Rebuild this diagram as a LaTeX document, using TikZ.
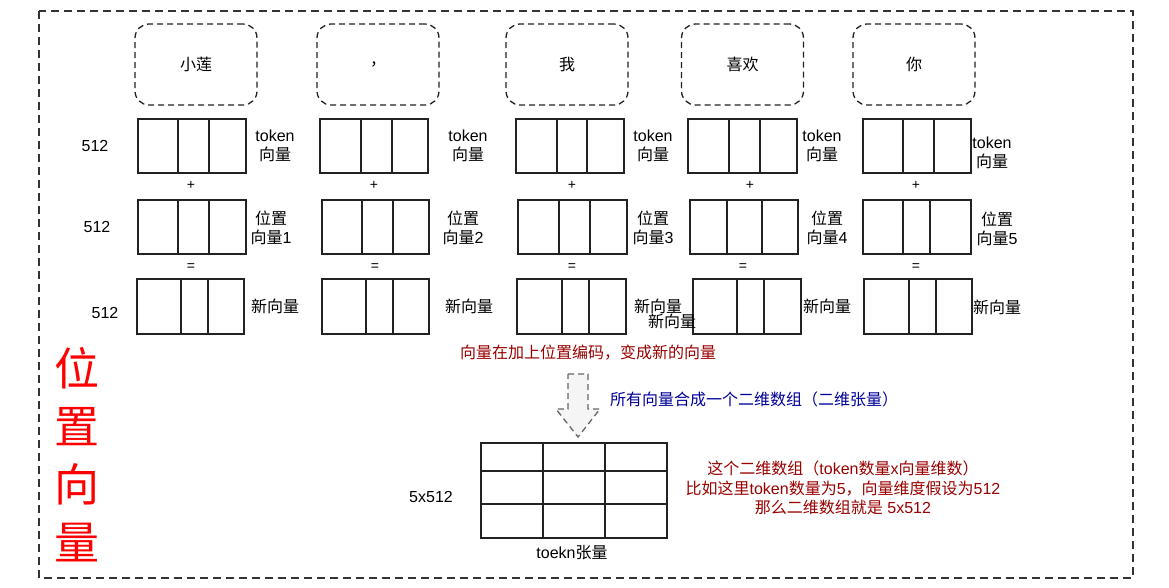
\documentclass[tikz,border=0pt]{standalone}
\usepackage{fontspec}
\setmainfont{Liberation Sans}
\newfontfamily\cjk{Noto Sans CJK SC}
\usetikzlibrary{fit}
\newcommand{\zh}[1]{{\cjk #1}}
\definecolor{darkred}{HTML}{990000}
\definecolor{darkblue}{HTML}{000099}
\definecolor{arrowgray}{HTML}{666666}
\definecolor{arrowfill}{HTML}{F5F5F5}
\definecolor{linegray}{HTML}{222222}
\tikzset{
  lbl/.style={font=\fontsize{16}{19.5}\selectfont, align=center, inner sep=0pt},
  smallsign/.style={font=\fontsize{14}{16}\selectfont, inner sep=0pt},
  tokbox/.style={draw=linegray, dash pattern=on 6pt off 4pt, line width=1.3pt,
    rounded corners=14pt, minimum width=122pt, minimum height=81pt,
    font=\fontsize{16}{19}\selectfont, inner sep=0pt},
  cellbox/.style={draw=linegray, line width=1.3pt, inner sep=0pt},
  cellline/.style={draw=linegray, line width=1.3pt},
  outerframe/.style={draw=black!80, line width=1.3pt, dash pattern=on 8pt off 5pt},
  blockarrow/.style={draw=arrowgray, fill=arrowfill, line width=1.3pt, dash pattern=on 6pt off 4pt, line join=miter},
}
\newcommand{\vecrow}[7]{%
  \node[cellbox, fit={(#2,#4) (#3,#5)}] (#1) {};
  \draw[cellline] (#6,#4) -- (#6,#5) (#7,#4) -- (#7,#5);
}
\begin{document}
\begin{tikzpicture}[x=1pt, y=-1pt]
\useasboundingbox (0,0) rectangle (1169,587);
% outer frame
\draw[outerframe] (39,11) rectangle (1133,578);

% token boxes
\node[tokbox] (tk1) at (196,64.5) {\zh{小莲}};
\node[tokbox] (tk2) at (378,64.5) {\zh{，}};
\node[tokbox] (tk3) at (567,64.5) {\zh{我}};
\node[tokbox] (tk4) at (742.5,64.5) {\zh{喜欢}};
\node[tokbox] (tk5) at (914,64.5) {\zh{你}};

% row 1: token vectors
\vecrow{a1}{138}{246}{119}{173}{178}{209}
\vecrow{a2}{320}{428}{119}{173}{361}{392}
\vecrow{a3}{516}{624}{119}{173}{557}{587}
\vecrow{a4}{688}{797}{119}{173}{729}{760}
\vecrow{a5}{863}{971}{119}{173}{903}{934}

% row 2: position vectors
\vecrow{b1}{138}{246}{200}{254}{178}{209}
\vecrow{b2}{322}{429}{200}{254}{362}{393}
\vecrow{b3}{518}{627}{200}{254}{559}{590}
\vecrow{b4}{690}{798}{200}{254}{727}{762}
\vecrow{b5}{863}{971}{200}{254}{903}{930}

% row 3: new vectors
\vecrow{c1}{137}{244}{279}{334}{181}{208}
\vecrow{c2}{322}{429}{279}{334}{366}{393}
\vecrow{c3}{517}{626}{279}{334}{562}{589}
\vecrow{c4}{693}{801}{279}{334}{737}{764}
\vecrow{c5}{864}{972}{279}{334}{909}{936}

% plus / equal signs
\node[smallsign] (p1) at (191,185) {+};
\node[smallsign] (p2) at (374,185) {+};
\node[smallsign] (p3) at (572,185) {+};
\node[smallsign] (p4) at (750,185) {+};
\node[smallsign] (p5) at (916,185) {+};
\node[smallsign] (e1) at (191,267) {=};
\node[smallsign] (e2) at (375,267) {=};
\node[smallsign] (e3) at (572,267) {=};
\node[smallsign] (e4) at (743,267) {=};
\node[smallsign] (e5) at (916,267) {=};

% dimension labels
\node[lbl] (d1) at (95,146) {512};
\node[lbl] (d2) at (97,227) {512};
\node[lbl] (d3) at (105,313) {512};

% token labels
\node[lbl] (tl1) at (275,146) {token\\\zh{向量}};
\node[lbl] (tl2) at (468,146) {token\\\zh{向量}};
\node[lbl] (tl3) at (653,146) {token\\\zh{向量}};
\node[lbl] (tl4) at (822,146) {token\\\zh{向量}};
\node[lbl] (tl5) at (992,153) {token\\\zh{向量}};

% position labels
\node[lbl] (pl1) at (271,228) {\zh{位置}\\\zh{向量}1};
\node[lbl] (pl2) at (463,228) {\zh{位置}\\\zh{向量}2};
\node[lbl] (pl3) at (653,228) {\zh{位置}\\\zh{向量}3};
\node[lbl] (pl4) at (827,228) {\zh{位置}\\\zh{向量}4};
\node[lbl] (pl5) at (997,229) {\zh{位置}\\\zh{向量}5};

% new vector labels
\node[lbl] (nl1) at (275,306) {\zh{新向量}};
\node[lbl] (nl2) at (469,306) {\zh{新向量}};
\node[lbl] (nl3) at (658,306) {\zh{新向量}};
\node[lbl] (nl3b) at (672,321) {\zh{新向量}};
\node[lbl] (nl4) at (827,306) {\zh{新向量}};
\node[lbl] (nl5) at (997,307) {\zh{新向量}};

% notes
\node[lbl, text=darkred] (note1) at (588,353) {\zh{向量在加上位置编码，变成新的向量}};
\node[lbl, text=darkblue, anchor=west] (note2) at (610,399) {\zh{所有向量合成一个二维数组（二维张量）}};

% block arrow
\draw[blockarrow] (568,374) -- (588,374) -- (588,409) -- (600,409) -- (578,437) -- (556,409) -- (568,409) -- cycle;

% tensor table
\node[cellbox, fit={(481,443) (667,538)}] (tbl) {};
\draw[cellline] (543,443) -- (543,538) (605,443) -- (605,538)
  (481,471) -- (667,471) (481,504) -- (667,504);
\node[lbl] (tdim) at (431,497) {5x512};
\node[lbl] (tname) at (572,553) {toekn\zh{张量}};

\node[lbl, text=darkred] (note3) at (843,488) {\zh{这个二维数组（}token\zh{数量}x\zh{向量维数）}\\\zh{比如这里}token\zh{数量为}5\zh{，向量维度假设为}512\\\zh{那么二维数组就是} 5x512};

% big vertical title
\node[font=\fontsize{45}{58}\selectfont\cjk, text=red, align=center, inner sep=0pt] (title) at (77,455) {位\\置\\向\\量};
\end{tikzpicture}
\end{document}
